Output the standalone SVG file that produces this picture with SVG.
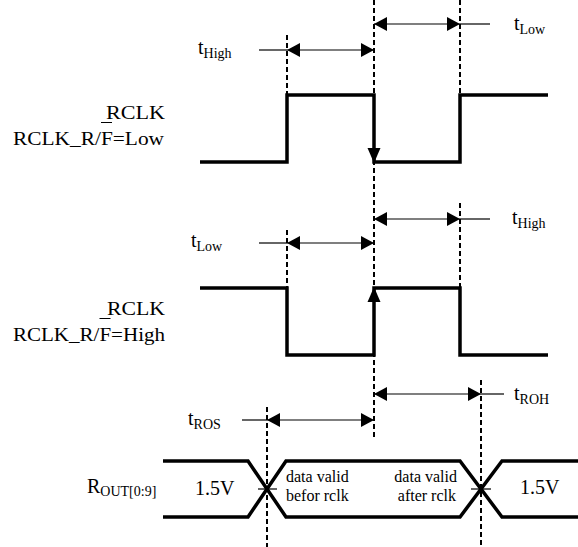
<svg xmlns="http://www.w3.org/2000/svg" width="578" height="547" viewBox="0 0 578 547">
<style>
.wave{fill:none;stroke:#000;stroke-width:3.5;stroke-linejoin:miter;stroke-linecap:butt}
.dash{fill:none;stroke:#000;stroke-width:2;stroke-dasharray:5,3}
.dim{fill:none;stroke:#000;stroke-width:1.2}
.ah{fill:#000}
.txt{font-family:'Liberation Serif','Times New Roman',Times,serif;fill:#000}
.lbl{font-size:19px}
.t{font-size:20px}
.sub{font-size:14px}
.dv{font-size:16px}
.v{font-size:20px}
</style>
<defs>
<marker id="arr" viewBox="0 0 13 14" refX="13" refY="7" markerWidth="13" markerHeight="14" markerUnits="userSpaceOnUse" orient="auto-start-reverse"><path d="M0,0L13,7L0,14z" fill="#000"/></marker>
</defs>
<rect width="578" height="547" fill="#fff"/>
<g id="guides">
<line class="dash" x1="287" y1="35" x2="287" y2="95"/>
<line class="dash" x1="374" y1="0" x2="374" y2="440"/>
<line class="dash" x1="460" y1="0" x2="460" y2="95"/>
<line class="dash" x1="287" y1="230" x2="287" y2="288"/>
<line class="dash" x1="460" y1="203" x2="460" y2="288"/>
<line class="dash" x1="267" y1="407" x2="267" y2="547"/>
<line class="dash" x1="481" y1="380" x2="481" y2="547"/>
</g>
<g id="connectors">
<line class="dim" x1="259" y1="50" x2="287" y2="50"/>
<line class="dim" x1="287" y1="50" x2="374" y2="50" marker-start="url(#arr)" marker-end="url(#arr)"/>
<line class="dim" x1="374" y1="24" x2="460" y2="24" marker-start="url(#arr)" marker-end="url(#arr)"/>
<line class="dim" x1="460" y1="24" x2="490" y2="24"/>
<line class="dim" x1="259" y1="243" x2="287" y2="243"/>
<line class="dim" x1="287" y1="243" x2="374" y2="243" marker-start="url(#arr)" marker-end="url(#arr)"/>
<line class="dim" x1="374" y1="219" x2="460" y2="219" marker-start="url(#arr)" marker-end="url(#arr)"/>
<line class="dim" x1="460" y1="219" x2="490" y2="219"/>
<line class="dim" x1="242" y1="420" x2="267" y2="420"/>
<line class="dim" x1="267" y1="420" x2="374" y2="420" marker-start="url(#arr)" marker-end="url(#arr)"/>
<line class="dim" x1="374" y1="394" x2="481" y2="394" marker-start="url(#arr)" marker-end="url(#arr)"/>
<line class="dim" x1="481" y1="394" x2="504" y2="394"/>
</g>
<g id="rclk-low" class="txt" font-family="Liberation Serif, serif">
<polyline class="wave" points="200,162 287,162 287,95 374,95 374,162 460,162 460,95 548,95"/>
<polygon class="ah" points="374,163 367.5,148 380.5,148"/>
<text class="lbl" x="106" y="119" textLength="59" lengthAdjust="spacingAndGlyphs">RCLK</text>
<text class="lbl" x="13" y="145" textLength="151" lengthAdjust="spacingAndGlyphs">RCLK_R/F=Low</text>
<line x1="101" y1="122.5" x2="112" y2="122.5" stroke="#000" stroke-width="1"/>
<text class="t" x="198" y="54">t<tspan class="sub" dy="4">High</tspan></text>
<text class="t" x="514" y="30">t<tspan class="sub" dy="4">Low</tspan></text>
</g>
<g id="rclk-high" class="txt" font-family="Liberation Serif, serif">
<polyline class="wave" points="200,288 287,288 287,355 374,355 374,288 460,288 460,355 548,355"/>
<polygon class="ah" points="374,287 367.5,302 380.5,302"/>
<text class="lbl" x="107" y="315" textLength="58" lengthAdjust="spacingAndGlyphs">RCLK</text>
<text class="lbl" x="13" y="341" textLength="152" lengthAdjust="spacingAndGlyphs">RCLK_R/F=High</text>
<line x1="99.5" y1="318.5" x2="110.5" y2="318.5" stroke="#000" stroke-width="1"/>
<text class="t" x="191" y="247">t<tspan class="sub" dy="4">Low</tspan></text>
<text class="t" x="512" y="224">t<tspan class="sub" dy="4">High</tspan></text>
</g>
<g id="rout" class="txt" font-family="Liberation Serif, serif">
<polyline class="wave" points="163,461 248,461 286,517 460,517 502,461 578,461"/>
<polyline class="wave" points="163,517 248,517 286,461 460,461 502,517 578,517"/>
<line class="dim" x1="258" y1="489" x2="277" y2="489"/>
<line class="dim" x1="471" y1="489" x2="491" y2="489"/>
<text class="t" x="87" y="493">R<tspan class="sub" dy="3">OUT[0:9]</tspan></text>
<text class="v" x="195" y="495">1.5V</text>
<text class="v" x="520" y="494">1.5V</text>
<text class="dv" x="286" y="482">data valid</text>
<text class="dv" x="286" y="501">befor rclk</text>
<text class="dv" x="457" y="482" text-anchor="end">data valid</text>
<text class="dv" x="456" y="501" text-anchor="end">after rclk</text>
<text class="t" x="188" y="425">t<tspan class="sub" dy="4">ROS</tspan></text>
<text class="t" x="514" y="400">t<tspan class="sub" dy="4">ROH</tspan></text>
</g>
</svg>
